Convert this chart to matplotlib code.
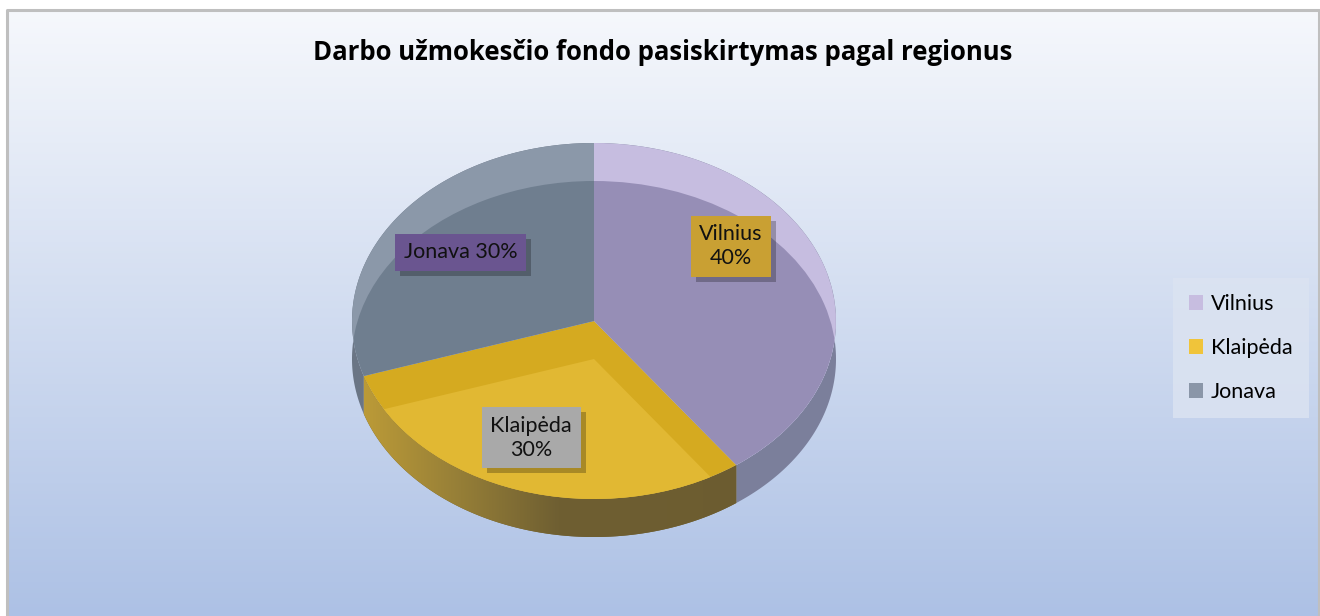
import numpy as np
import matplotlib
matplotlib.use("Agg")
import matplotlib.pyplot as plt
import matplotlib.patheffects as pe
from matplotlib.patches import Patch, Polygon

plt.rcParams['font.family'] = ['Lato', 'DejaVu Sans']

# Data
title = "Darbo užmokesčio fondo pasiskirtymas pagal regionus"
regions = ["Vilnius", "Klaipėda", "Jonava"]
shares = [40, 30, 30]

# colours: top face rim, face seen through, side wall, legend swatch
top_colors = ['#c6bde0', '#d5aa20', '#8b98a9']
inner_colors = ['#968eb6', '#e1b833', '#6f7e8f']
side_colors = ['#7b7f9b', '#6e5e31', '#6a7585']
legend_colors = ['#c7bde0', '#f0c43a', '#8a96a8']
label_box_colors = ['#c9a033', '#a9a9a9', '#6a5590']
label_texts = ["Vilnius\n40%", "Klaipėda\n30%", "Jonava 30%"]
label_pos = [(0.566, 0.42), (-0.26, -0.655), (-0.55, 0.385)]

W, H = 1320, 616
fig = plt.figure(figsize=(W / 100, H / 100), dpi=100)
fig.patch.set_facecolor('white')

# background panel with vertical gradient
bg = fig.add_axes([0, 0, 1, 1])
bg.set_xlim(0, W)
bg.set_ylim(H, 0)
bg.axis('off')
grad = np.linspace(0, 1, 256)[:, None]
top_c = np.array(matplotlib.colors.to_rgb('#f6f8fc'))
bot_c = np.array(matplotlib.colors.to_rgb('#adc1e5'))
img = top_c[None, None, :] * (1 - grad[:, :, None]) + bot_c[None, None, :] * grad[:, :, None]
bg.imshow(img, extent=(7, 1319, H, 10), aspect='auto', zorder=0)
bg.plot([7, 7, 1319, 1319], [H, 10, 10, H], color='#bfbfbf', lw=2.2, zorder=1)

# pie axes, squashed so the circle looks tilted
cx, cy, rx, ry = 594, 321, 242, 178
depth = 38 / ry
ax = fig.add_axes([0, 0, 1, 1])
ax.patch.set_alpha(0)

top_wedges, _ = ax.pie(shares, colors=top_colors, startangle=90, counterclock=False,
                       radius=1, center=(0, 0), wedgeprops=dict(linewidth=0))
low_wedges, _ = ax.pie(shares, colors=inner_colors, startangle=90, counterclock=False,
                       radius=1, center=(0, -depth), wedgeprops=dict(linewidth=0))

for i, (tw, bw) in enumerate(zip(top_wedges, low_wedges)):
    tw.set_zorder(3)
    bw.set_zorder(4)
    bw.set_clip_on(True)   # pie turns clipping off
    bw.set_clip_path(tw)
    # side wall between top and bottom arcs
    t = np.radians(np.linspace(tw.theta1, tw.theta2, 200))
    upper = np.column_stack([np.cos(t), np.sin(t)])
    lower = np.column_stack([np.cos(t), np.sin(t) - depth])[::-1]
    side = Polygon(np.vstack([upper, lower]), closed=True, facecolor=side_colors[i],
                   edgecolor='none', zorder=2)
    ax.add_patch(side)
    if regions[i] == "Klaipėda":
        # horizontal shading on the front wall, light on the left
        xs = np.linspace(-1, 0.75, 300)
        stops = [-1, -0.55, -0.15, 0.75]
        c_stops = np.array([matplotlib.colors.to_rgb(c)
                            for c in ['#c09e38', '#957e37', '#6f5f32', '#6c5c30']])
        simg = np.stack([np.interp(xs, stops, c_stops[:, k]) for k in range(3)], axis=-1)[None]
        im = ax.imshow(simg, extent=(-1, 0.75, -1 - depth, 0), aspect='auto', zorder=2.5)
        im.set_clip_path(side)

ax.set_aspect('auto')
ax.set_xlim(-cx / rx, (W - cx) / rx)
ax.set_ylim(-(H - cy) / ry, cy / ry)
ax.axis('off')

# data labels with drop shadow on the box
for txt, (lx, ly), bc in zip(label_texts, label_pos, label_box_colors):
    lab = ax.text(lx, ly, txt, ha='center', va='center', fontsize=15.5, color='#111111',
                  linespacing=1.25, zorder=6,
                  bbox=dict(boxstyle='square,pad=0.4', facecolor=bc, edgecolor='none'))
    lab.get_bbox_patch().set_path_effects([
        pe.SimplePatchShadow(offset=(3.6, -3.6), shadow_rgbFace='black', alpha=0.25),
        pe.Normal()])

fig.text(663 / W, 1 - 52 / H, title, ha='center', va='center', fontsize=18.5,
         fontweight='bold', color='#000000', family='Open Sans')

handles = [Patch(facecolor=c, edgecolor='none') for c in legend_colors]
leg = fig.legend(handles, regions, loc='center', bbox_to_anchor=(1241 / W, 1 - 348 / H),
                 frameon=True, facecolor='#dbe3f1', edgecolor='none', fancybox=False,
                 framealpha=0.85, handlelength=0.65, handleheight=0.65, handletextpad=0.35,
                 labelspacing=1.12, borderpad=0.75, fontsize=15.5)

fig.savefig("out.png", dpi=100)
